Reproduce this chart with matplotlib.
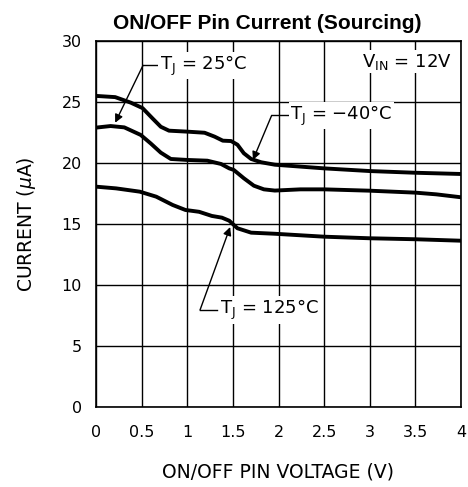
import matplotlib
matplotlib.use("Agg")
import matplotlib.pyplot as plt

# Data
x_m40 = [0.0, 0.21, 0.38, 0.51, 0.62, 0.71, 0.80, 1.0, 1.19, 1.30, 1.39, 1.48, 1.55, 1.62, 1.70, 1.81, 1.96, 2.5, 3.0, 3.5, 4.0]
y_m40 = [25.5, 25.4, 24.95, 24.5, 23.65, 22.97, 22.65, 22.57, 22.48, 22.16, 21.83, 21.8, 21.5, 20.8, 20.33, 20.06, 19.86, 19.56, 19.34, 19.2, 19.1]

x_25 = [0.0, 0.16, 0.31, 0.49, 0.60, 0.71, 0.82, 1.0, 1.22, 1.37, 1.46, 1.51, 1.62, 1.73, 1.84, 1.96, 2.24, 2.5, 3.0, 3.5, 3.73, 4.0]
y_25 = [22.9, 23.03, 22.92, 22.3, 21.6, 20.85, 20.33, 20.25, 20.19, 19.92, 19.56, 19.43, 18.75, 18.14, 17.84, 17.74, 17.84, 17.84, 17.73, 17.57, 17.43, 17.19]

x_125 = [0.0, 0.22, 0.48, 0.66, 0.84, 0.98, 1.13, 1.27, 1.38, 1.46, 1.55, 1.70, 1.96, 2.5, 3.0, 3.5, 4.0]
y_125 = [18.06, 17.92, 17.65, 17.24, 16.56, 16.15, 16.0, 15.66, 15.52, 15.27, 14.65, 14.29, 14.2, 13.96, 13.83, 13.75, 13.63]

x_ticks = [0, 0.5, 1, 1.5, 2, 2.5, 3, 3.5, 4]
x_tick_labels = ["0", "0.5", "1", "1.5", "2", "2.5", "3", "3.5", "4"]
y_ticks = [0, 5, 10, 15, 20, 25, 30]

fig = plt.figure(figsize=(4.68, 4.87), dpi=100)
ax = fig.add_axes([96 / 468, 1 - 407 / 487, (461 - 96) / 468, (407 - 41) / 487])

for xs, ys in [(x_m40, y_m40), (x_25, y_25), (x_125, y_125)]:
    ax.plot(xs, ys, color="black", lw=2.8, solid_capstyle="round",
            solid_joinstyle="round", zorder=3)

ax.set_xlim(0, 4)
ax.set_ylim(0, 30)
ax.set_xticks(x_ticks)
ax.set_xticklabels(x_tick_labels)
ax.set_yticks(y_ticks)
ax.grid(True, color="black", lw=1.0)
ax.tick_params(length=0, labelsize=11.5)
ax.tick_params(axis="x", pad=13)
ax.tick_params(axis="y", pad=10)
for s in ax.spines.values():
    s.set_linewidth(1.2)

ax.set_title("ON/OFF Pin Current (Sourcing)", fontsize=15, fontweight="bold",
             family="Liberation Sans", pad=8.5, x=0.47)
ax.set_xlabel("ON/OFF PIN VOLTAGE (V)", fontsize=13.5, labelpad=16)
ax.set_ylabel(r"CURRENT ($\mu$A)", fontsize=13.5, labelpad=17)

bbox = dict(facecolor="white", edgecolor="none", pad=1)
akw = dict(arrowstyle="-|>", color="black", lw=1.0, mutation_scale=12, shrinkA=0, shrinkB=0)

def label(txt, tip, elbow, end, textpos):
    ax.plot([elbow[0], end[0]], [elbow[1], end[1]], color="black", lw=1.0, zorder=4)
    ax.annotate("", xy=tip, xytext=elbow, arrowprops=akw, zorder=4)
    ax.text(textpos[0], textpos[1], txt, fontsize=13, va="center", ha="left",
            bbox=bbox, zorder=4)

label(r"T$_\mathregular{J}$ = 25°C", (0.21, 23.3), (0.515, 28.0), (0.68, 28.0), (0.70, 28.0))
label(r"T$_\mathregular{J}$ = −40°C", (1.72, 20.25), (1.925, 23.9), (2.1, 23.9), (2.13, 23.9))
label(r"T$_\mathregular{J}$ = 125°C", (1.47, 14.75), (1.14, 7.95), (1.33, 7.95), (1.36, 7.95))

ax.text(2.92, 28.3, r"V$_\mathregular{IN}$ = 12V", fontsize=13, va="center", ha="left",
        bbox=bbox, zorder=4)

fig.savefig("out.png", dpi=100)
